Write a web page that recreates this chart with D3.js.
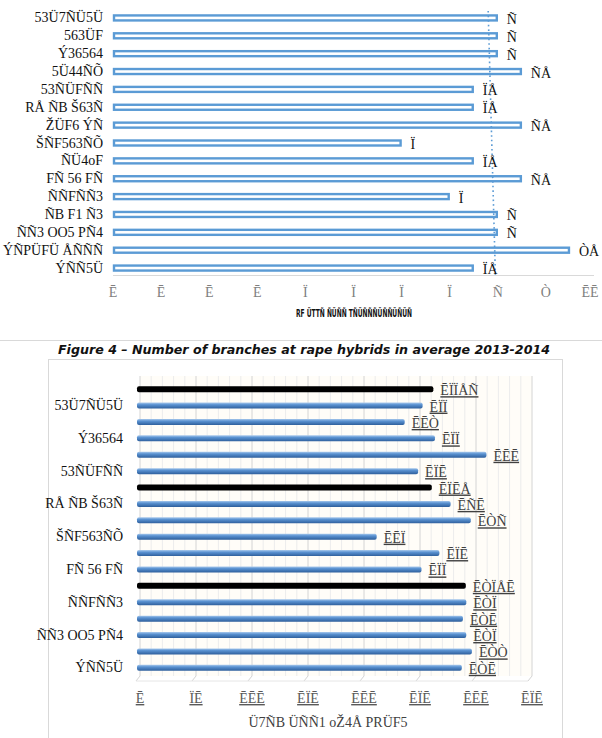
<!DOCTYPE html>
<html>
<head>
<meta charset="utf-8">
<script src="https://cdn.jsdelivr.net/npm/d3@7"></script>
<style>
  html, body { margin: 0; padding: 0; background: #fff; }
  svg { display: block; }
</style>
</head>
<body>
<script>
// ---------- DATA : top chart ----------
const topCats = ["53Ü7ÑÜ5Ü","563ÜF","Ý36564","5Ü44ÑÕ","53ÑÜFÑÑ","RÅ ÑB Š63Ñ","ŽÜF6 ÝÑ","ŠÑF563ÑÕ","ÑÜ4oF","FÑ 56 FÑ","ÑÑFÑÑ3","ÑB F1 Ñ3","ÑÑ3 OO5 PÑ4","ÝÑPÜFÜ ÅÑÑÑ","ÝÑÑ5Ü"];
const topValues = [8, 8, 8, 8.5, 7.5, 7.5, 8.5, 6, 7.5, 8.5, 7, 8, 8, 9.5, 7.5];
const topValueLabels = ["Ñ","Ñ","Ñ","ÑÅ","ÏÅ","ÏÅ","ÑÅ","Ï","ÏÅ","ÑÅ","Ï","Ñ","Ñ","ÒÅ","ÏÅ"];
const topTicks = [0,1,2,3,4,5,6,7,8,9,10];
const topTickLabels = ["Ē","Ē","Ē","Ē","Ï","Ï","Ï","Ï","Ñ","Ò","ĒĒ"];
const topTrend = [7.8, 7.95];   // dotted average/trend line, value at first and last category
const topAxisTitle = "RF ÜTTÑ ÑÜÑÑ TÑÜÑÑÑÜÑÑÜÑÜÑ";

const caption = "Figure 4 – Number of branches at rape hybrids in average 2013-2014";

// ---------- DATA : bottom chart ----------
const botCats = ["Ñ·1","53Ü7ÑÜ5Ü","563ÜF","Ý36564","5Ü44ÑÕ","53ÑÜFÑÑ","Ñ·2","RÅ ÑB Š63Ñ","ŽÜF6 ÝÑ","ŠÑF563ÑÕ","ÑÜ4oF","FÑ 56 FÑ","Ñ·3","ÑÑFÑÑ3","ÑB F1 Ñ3","ÑÑ3 OO5 PÑ4","ÝÑPÜFÜ ÅÑÑÑ","ÝÑÑ5Ü"];
const botValues = [264.6, 255, 239, 266, 312, 251, 263.2, 280, 298, 214, 270, 254, 293.6, 294, 291, 294, 299, 290];
const botIsGroup = [true,false,false,false,false,false,true,false,false,false,false,false,true,false,false,false,false,false];
const botValueLabels = ["ĒÏÏÅÑ","ĒÏÏ","ĒĒÒ","ĒÏÏ","ĒĒĒ","ĒÏĒ","ĒÏĒÅ","ĒÑĒ","ĒÒÑ","ĒĒÏ","ĒÏĒ","ĒÏÏ","ĒÒÏÅĒ","ĒÒÏ","ĒÒĒ","ĒÒÏ","ĒÒÒ","ĒÒĒ"];
const botTicks = [0,50,100,150,200,250,300,350];
const botTickLabels = ["Ē","ÏĒ","ĒĒĒ","ĒÏĒ","ĒĒĒ","ĒÏĒ","ĒĒĒ","ĒÏĒ"];
const botMinor = d3.range(0, 351, 10);
const botAxisTitle = "Ü7ÑB ÜÑÑ1 oŽ4Å PRÜF5";

// ---------- drawing ----------
const W = 602, H = 738;
const svg = d3.select("body").append("svg").attr("width", W).attr("height", H);
const serif = "'Liberation Serif','DejaVu Serif',serif";

// ===== TOP CHART =====
const tx = d3.scaleLinear().domain([0, 10]).range([113, 594]);
const ty = d3.scaleBand().domain(d3.range(topCats.length)).range([9, 277]).paddingInner(0);
const topG = svg.append("g");

topG.append("line").attr("x1", tx(0)).attr("x2", tx(10)).attr("y1", 275.5).attr("y2", 275.5)
  .attr("stroke", "#d9d9d9").attr("stroke-width", 1);

topG.selectAll("rect.tb").data(topValues).join("rect")
  .attr("x", tx(0) + 1)
  .attr("y", (d, i) => ty(i) + ty.bandwidth() / 2 - 2.5)
  .attr("width", d => tx(d) - tx(0) - 2)
  .attr("height", 5)
  .attr("fill", "#fff").attr("stroke", "#5b9bd5").attr("stroke-width", 2.4);

topG.append("line")
  .attr("x1", tx(topTrend[0])).attr("x2", tx(topTrend[1]))
  .attr("y1", ty(0) + 2).attr("y2", ty(topCats.length - 1) + ty.bandwidth() - 2)
  .attr("stroke", "#5b9bd5").attr("stroke-width", 1.6).attr("stroke-dasharray", "1.6,3");

topG.selectAll("text.tc").data(topCats).join("text")
  .attr("x", 103).attr("y", (d, i) => ty(i) + ty.bandwidth() / 2 + 4.5)
  .attr("text-anchor", "end").attr("font-family", serif).attr("font-size", 14).attr("fill", "#111")
  .text(d => d);

topG.selectAll("text.tv").data(topValues).join("text")
  .attr("x", d => tx(d) + 9).attr("y", (d, i) => ty(i) + ty.bandwidth() / 2 + 6)
  .attr("font-family", serif).attr("font-size", 14).attr("fill", "#111")
  .text((d, i) => topValueLabels[i]);

topG.selectAll("text.tt").data(topTicks).join("text")
  .attr("x", d => Math.min(tx(d), 590)).attr("y", 297)
  .attr("text-anchor", "middle").attr("font-family", serif).attr("font-size", 14).attr("fill", "#7f7f7f")
  .text((d, i) => topTickLabels[i]);

topG.append("text").attr("x", 354).attr("y", 317).attr("text-anchor", "middle")
  .attr("font-family", "'Liberation Sans Narrow','DejaVu Sans Condensed',sans-serif")
  .attr("font-weight", "bold").attr("font-size", 10).attr("fill", "#111")
  .attr("textLength", 116).attr("lengthAdjust", "spacingAndGlyphs")
  .text(topAxisTitle);

svg.append("line").attr("x1", 0).attr("x2", W).attr("y1", 340.5).attr("y2", 340.5)
  .attr("stroke", "#d9d9d9");

svg.append("text").attr("x", 304).attr("y", 354).attr("text-anchor", "middle")
  .attr("font-family", "'DejaVu Sans',sans-serif").attr("font-weight", "bold").attr("font-style", "italic")
  .attr("font-size", 13).attr("fill", "#111")
  .attr("textLength", 492).attr("lengthAdjust", "spacingAndGlyphs")
  .text(caption);

// ===== BOTTOM CHART =====
const bot = svg.append("g");
bot.append("rect").attr("x", 48.5).attr("y", 359.5).attr("width", 514).attr("height", 400)
  .attr("fill", "#fff").attr("stroke", "#d9d9d9");

const bx = d3.scaleLinear().domain([0, 350]).range([137, 529]);
const by = d3.scaleBand().domain(d3.range(botCats.length)).range([381, 676]);
const depth = 3;

bot.append("rect").attr("x", bx(0) + depth).attr("y", 376).attr("width", bx(350) - bx(0))
  .attr("height", 300).attr("fill", "#fffdf8");

bot.selectAll("line.mg").data(botMinor.filter(d => d % 50 !== 0)).join("line")
  .attr("x1", d => bx(d) + depth).attr("x2", d => bx(d) + depth)
  .attr("y1", 376).attr("y2", 676).attr("stroke", "#ececec");
bot.selectAll("line.Mg").data(botTicks).join("line")
  .attr("x1", d => bx(d) + depth).attr("x2", d => bx(d) + depth)
  .attr("y1", 376).attr("y2", 676).attr("stroke", "#d4d4d4");

bot.selectAll("line.ft").data(botTicks).join("line")
  .attr("x1", d => bx(d) + depth).attr("x2", d => bx(d) - 1)
  .attr("y1", 676).attr("y2", 681).attr("stroke", "#d4d4d4");
bot.append("line").attr("x1", bx(0) - 1).attr("x2", bx(350) - 1).attr("y1", 681).attr("y2", 681)
  .attr("stroke", "#e6e6e6");

const defs = svg.append("defs");
const g = defs.append("linearGradient").attr("id", "blueBar").attr("x1", 0).attr("x2", 0).attr("y1", 0).attr("y2", 1);
g.append("stop").attr("offset", "0%").attr("stop-color", "#a9c9ec");
g.append("stop").attr("offset", "35%").attr("stop-color", "#5b93d2");
g.append("stop").attr("offset", "100%").attr("stop-color", "#2e5f9c");

bot.selectAll("rect.bb").data(botValues).join("rect")
  .attr("x", bx(0))
  .attr("y", (d, i) => by(i) + by.bandwidth() / 2 - 3)
  .attr("width", d => bx(d) - bx(0))
  .attr("height", 6)
  .attr("rx", 2)
  .attr("fill", (d, i) => botIsGroup[i] ? "#000" : "url(#blueBar)");

bot.selectAll("text.bc").data(botCats.filter((d, i) => i % 2 === 1)).join("text")
  .attr("x", 123).attr("y", (d, i) => by(i * 2 + 1) + by.bandwidth() / 2 + 4.5)
  .attr("text-anchor", "end").attr("font-family", serif).attr("font-size", 14).attr("fill", "#111")
  .text(d => d);

bot.selectAll("text.bv").data(botValues).join("text")
  .attr("x", d => bx(d) + 7).attr("y", (d, i) => by(i) + by.bandwidth() / 2 + 6)
  .attr("font-family", serif).attr("font-size", 14).attr("fill", "#404040")
  .attr("text-decoration", "underline")
  .text((d, i) => botValueLabels[i]);

bot.selectAll("text.bt").data(botTicks).join("text")
  .attr("x", d => bx(d) + 3).attr("y", 703)
  .attr("text-anchor", "middle").attr("font-family", serif).attr("font-size", 14).attr("fill", "#595959")
  .attr("text-decoration", "underline")
  .text((d, i) => botTickLabels[i]);

bot.append("text").attr("x", 328).attr("y", 727).attr("text-anchor", "middle")
  .attr("font-family", serif).attr("font-size", 14).attr("fill", "#404040")
  .text(botAxisTitle);
</script>
</body>
</html>
